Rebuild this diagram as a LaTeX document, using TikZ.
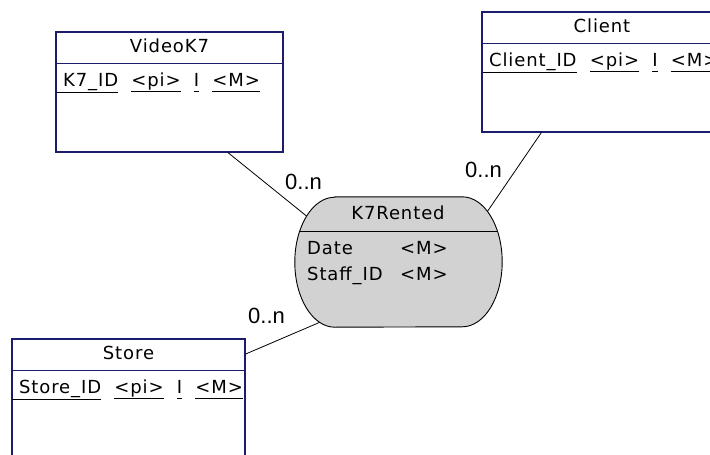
\documentclass[tikz,border=0pt]{standalone}
\usepackage{fontspec}
\usetikzlibrary{calc}
\newfontfamily\boxfont[LetterSpace=5]{DejaVu Sans}
\newfontfamily\cardfont{Liberation Sans}
\definecolor{navy}{RGB}{28,28,110}
\definecolor{shade}{RGB}{210,210,210}
\newcommand{\keyline}[1]{\underline{\vphantom{p}#1}}
\tikzset{
	entity/.style={draw=navy,line width=1.4pt,fill=white,minimum height=120pt,inner sep=0pt},
	relation/.style={draw=black,line width=0.9pt,fill=shade},
	link/.style={draw=black,line width=0.8pt},
	card/.style={font=\cardfont\fontsize{22}{26}\selectfont,anchor=base west,inner sep=0pt}
}
\begin{document}
\begin{tikzpicture}[x=1pt,y=1pt,font=\boxfont\fontsize{18}{22}\selectfont]
				\fill[white] (0,0) rectangle (710,-455);
				\path[use as bounding box,clip] (0,0) rectangle (710,-455);
				
				% entities
				\foreach \nm/\cx/\cy/\bw/\ttl/\kname in {videok7/169.5/-92/227/VideoK7/K7\_ID, client/602/-72/240/Client/Client\_ID, store/128.5/-399/233/Store/Store\_ID} {
					\node[entity,minimum width=\bw pt] (\nm) at (\cx,\cy) {};
					\draw[navy,line width=1.2pt] ([yshift=-32pt]\nm.north west) -- ([yshift=-32pt]\nm.north east);
					\node[anchor=base,inner sep=0pt] (\nm-title) at ([yshift=-21pt]\nm.north) {\ttl};
					\node[anchor=base west,inner sep=0pt] (\nm-key) at ([shift={(1pt,-55pt)}]\nm.north west) {\keyline{\ \kname}\ \ \keyline{<pi>}\ \ \keyline{I}\ \ \keyline{<M>}};
				}
				
				% association
				\node[minimum width=127pt,minimum height=130pt,inner sep=0pt] (k7rented) at (398.5,-262) {};
				\path[relation] (k7rented.north west) -- (k7rented.north east)
					arc[start angle=90,end angle=-90,x radius=40pt,y radius=65pt]
					-- (k7rented.south west)
					arc[start angle=270,end angle=90,x radius=40pt,y radius=65pt] -- cycle;
				\draw[line width=0.9pt] ($(k7rented.west)+(151.5:40pt and 65pt)$) -- ($(k7rented.east)+(28.5:40pt and 65pt)$);
				\node[anchor=base,inner sep=0pt] (k7rented-title) at (398,-219) {K7Rented};
				\node[anchor=base west,inner sep=0pt] (date) at (307,-254) {Date};
				\node[anchor=base west,inner sep=0pt] (date-m) at (400,-254) {<M>};
				\node[anchor=base west,inner sep=0pt] (staff) at (307,-280) {Staff\_ID};
				\node[anchor=base west,inner sep=0pt] (staff-m) at (400,-280) {<M>};
				
				\coordinate (k7-video) at ($(k7rented.west)+(135:40pt and 65pt)$);
				\coordinate (k7-client) at ($(k7rented.east)+(51:40pt and 65pt)$);
				\coordinate (k7-store) at ($(k7rented.west)+(-112:40pt and 65pt)$);
				
				\draw[link] (videok7.-46) -- (k7-video);
				\draw[link] (client.-135) -- (k7-client);
				\draw[link] (store.21.5) -- (k7-store);
				
				\node[card] (card-video) at (285,-189) {0..n};
				\node[card] (card-client) at (465,-177) {0..n};
				\node[card] (card-store) at (248,-323) {0..n};
			\end{tikzpicture}
\end{document}
